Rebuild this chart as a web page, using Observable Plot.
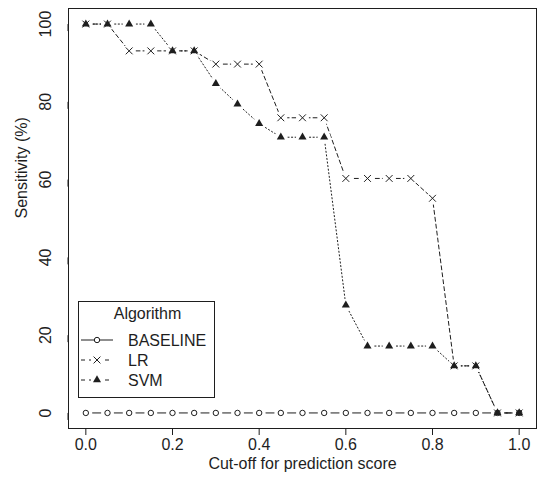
<!DOCTYPE html>
<html><head><meta charset="utf-8">
<script src="https://cdn.jsdelivr.net/npm/d3@7"></script>
<script src="https://cdn.jsdelivr.net/npm/@observablehq/plot@0.6"></script>
<style>body{margin:0;background:#fff} #chart{width:540px;height:477px}</style>
</head><body><div id="chart"></div>
<script>
const cutoffs  = [0,0.05,0.1,0.15,0.2,0.25,0.3,0.35,0.4,0.45,0.5,0.55,0.6,0.65,0.7,0.75,0.8,0.85,0.9,0.95,1.0];
const baseline = [0,0,0,0,0,0,0,0,0,0,0,0,0,0,0,0,0,0,0,0,0];
const lr       = [100,100,93.1,93.1,93.1,93.1,89.7,89.7,89.7,75.9,75.9,75.9,60.3,60.3,60.3,60.3,55.2,12.1,12.1,0,0];
const svm      = [100,100,100,100,93.1,93.1,84.7,79.4,74.4,70.9,70.9,70.9,27.7,17.2,17.2,17.2,17.2,12.1,12.1,0,0];
const seriesNames = ["BASELINE","LR","SVM"];
const xTicks = [0,0.2,0.4,0.6,0.8,1.0];
const yTicks = [0,20,40,60,80,100];
const xTitle = "Cut-off for prediction score";
const yTitle = "Sensitivity (%)";
const legendTitle = "Algorithm";

const ink = "#1e1e1e";
const font = "'Liberation Sans', Arial, Helvetica, sans-serif";
const dash = {BASELINE: null, LR: "4,3", SVM: "1.2,2.4"};

const seriesValues = {BASELINE: baseline, LR: lr, SVM: svm};
const rows = [];
for (const s of seriesNames) cutoffs.forEach((c, i) => rows.push({x: c, y: seriesValues[s][i], s}));
const of = s => rows.filter(d => d.s === s);

const plot = Plot.plot({
  width: 540, height: 477,
  marginLeft: 68, marginRight: 4, marginTop: 8, marginBottom: 49,
  style: {fontFamily: font, fontSize: "16px", color: ink, background: "#fff"},
  x: {domain: [-0.04, 1.04], label: null},
  y: {domain: [-4, 104], label: null},
  marks: [
    Plot.frame({stroke: ink}),
    ...seriesNames.map(s => Plot.line(of(s), {x: "x", y: "y", stroke: ink, strokeWidth: 1, strokeDasharray: dash[s]})),
    Plot.dot(rows, {x: "x", y: "y", r: 6.5, fill: "white", stroke: null}),
    Plot.dot(of("BASELINE"), {x: "x", y: "y", symbol: "circle", r: 2.7, fill: "white", stroke: ink, strokeWidth: 1}),
    Plot.dot(of("LR"), {x: "x", y: "y", symbol: "times", r: 3.2, stroke: ink, strokeWidth: 1}),
    Plot.dot(of("SVM"), {x: "x", y: "y", symbol: "triangle", r: 3, fill: ink, stroke: null}),
    Plot.axisX({ticks: xTicks, tickSize: 7, tickPadding: 3, tickFormat: d3.format(".1f"), fontSize: 16, stroke: ink, fill: ink, label: null}),
    Plot.axisY({ticks: yTicks, tickSize: 7, tickPadding: 16, rotate: -90, textAnchor: "middle", fontSize: 16, stroke: ink, fill: ink, label: null}),
    Plot.text([xTitle], {text: d => d, frameAnchor: "bottom", dy: 40, fontSize: 16, fill: ink}),
    Plot.text([yTitle], {text: d => d, frameAnchor: "left", dx: -47, rotate: -90, fontSize: 16, fill: ink})
  ]
});
document.getElementById("chart").appendChild(plot);

// legend (R style box)
const svg = d3.select(plot);
const lg = svg.append("g").attr("font-family", font).attr("font-size", 16).attr("fill", ink);
lg.append("rect").attr("x", 78.5).attr("y", 301.5).attr("width", 136).attr("height", 96)
  .attr("fill", "white").attr("stroke", ink);
lg.append("text").attr("x", 147.5).attr("y", 319).attr("text-anchor", "middle").text(legendTitle);
seriesNames.forEach((s, i) => {
  const cy = 340 + i * 20;
  lg.append("line").attr("x1", 81).attr("x2", 113).attr("y1", cy).attr("y2", cy)
    .attr("stroke", ink).attr("stroke-dasharray", dash[s] ? "4,4" : null);
  const sym = s === "BASELINE" ? d3.symbolCircle : s === "LR" ? d3.symbolTimes : d3.symbolTriangle;
  const size = s === "BASELINE" ? Math.PI * 2.7 * 2.7 : s === "LR" ? Math.PI * 3.2 * 3.2 : Math.PI * 9;
  if (s !== "BASELINE") lg.append("rect").attr("x", 91).attr("y", cy - 5).attr("width", 12).attr("height", 10).attr("fill", "white");
  const p = lg.append("path").attr("d", d3.symbol(sym, size)()).attr("transform", `translate(97,${cy})`);
  if (s === "SVM") p.attr("fill", ink).attr("stroke", "none");
  else p.attr("fill", s === "BASELINE" ? "white" : "none").attr("stroke", ink);
  lg.append("text").attr("x", 128).attr("y", cy + 5.7).attr("text-anchor", "start").text(s);
});
</script>
</body></html>
